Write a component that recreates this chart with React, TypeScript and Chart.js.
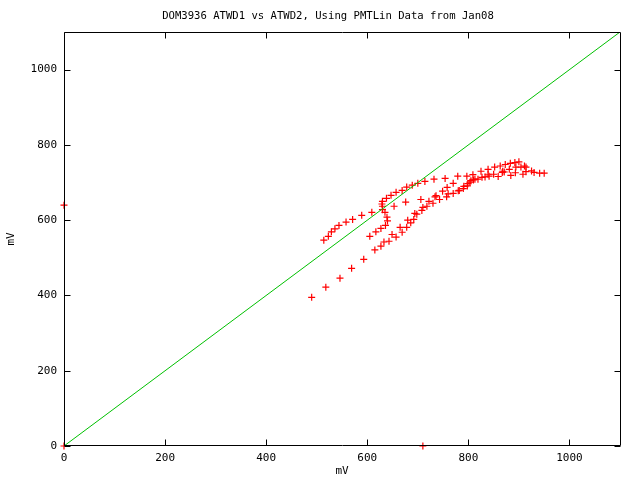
import React, { useEffect, useRef } from "react";
import { Chart, registerables } from "chart.js";

Chart.register(...registerables);

const TITLE = "DOM3936 ATWD1 vs ATWD2, Using PMTLin Data from Jan08";
const X_LABEL = "mV";
const Y_LABEL = "mV";
const TICK_VALUES = [0, 200, 400, 600, 800, 1000];
const AXIS_MAX = 1100;

// ATWD1 (x) vs ATWD2 (y) measurements, mV
const atwd1 = [
  490, 518, 546, 569, 593, 615, 627, 633, 643, 649, 657, 669, 665, 678, 686, 680, 692, 694, 698, 708,
  710, 718, 722, 730, 706, 734, 736, 743, 749, 757, 758, 760, 770, 770, 780, 782, 790, 791, 798, 799,
  803, 805, 810, 813, 819, 827, 833, 839, 841, 850, 859, 867, 868, 884, 893, 908, 914, 925, 930, 941,
  950, 779, 797, 809, 825, 839, 852, 863, 873, 883, 892, 900, 894, 904, 911, 914, 881, 871, 514, 523,
  529, 536, 544, 558, 571, 589, 609, 630, 635, 639, 640, 636, 627, 617, 605, 629, 630, 638, 647, 657,
  669, 678, 689, 700, 714, 732, 754, 653, 676, 630, 710, 0, 0,
];
const atwd2 = [
  395, 422, 446, 472, 496, 521, 531, 542, 544, 562, 555, 568, 581, 581, 593, 600, 602, 618, 616, 626,
  634, 637, 650, 645, 655, 662, 665, 655, 677, 662, 687, 670, 671, 698, 678, 679, 684, 690, 691, 697,
  701, 705, 707, 709, 709, 714, 715, 722, 717, 722, 716, 727, 730, 719, 726, 722, 729, 731, 727, 725,
  725, 717, 717, 721, 730, 735, 741, 744, 748, 751, 753, 755, 741, 741, 744, 741, 735, 728, 547, 557,
  569, 577, 586, 595, 602, 613, 621, 628, 621, 608, 598, 586, 578, 569, 557, 643, 650, 658, 666, 674,
  679, 688, 693, 698, 703, 709, 711, 637, 648, 637, 0, 640, 0,
];

// reference line y = x
const lineX = [0, 1100];
const lineY = [0, 1100];

const FONT = { family: "'DejaVu Sans Mono', 'Liberation Mono', monospace", size: 11, weight: "normal" as const };

const titlePlugin = {
  id: "gpTitle",
  afterDraw(chart: any) {
    const { ctx } = chart;
    ctx.save();
    ctx.fillStyle = "#000";
    ctx.font = "10.6px 'DejaVu Sans Mono', 'Liberation Mono', monospace";
    ctx.textAlign = "center";
    ctx.textBaseline = "middle";
    ctx.fillText(TITLE, 328, 16);
    ctx.restore();
  },
};

const framePlugin = {
  id: "frame",
  afterDatasetsDraw(chart: any) {
    const { ctx, chartArea: a, scales } = chart;
    const L = Math.round(a.left) + 0.5;
    const R = Math.round(a.right) + 0.5;
    const T = Math.round(a.top) + 0.5;
    const B = Math.round(a.bottom) - 0.5;
    ctx.save();
    ctx.strokeStyle = "#000";
    ctx.lineWidth = 1;
    ctx.beginPath();
    ctx.rect(L, T, R - L, B - T);
    const tl = 6;
    for (const v of TICK_VALUES) {
      const px = Math.round(scales.x.getPixelForValue(v)) + 0.5;
      ctx.moveTo(px, B);
      ctx.lineTo(px, B - tl);
      ctx.moveTo(px, T);
      ctx.lineTo(px, T + tl);
      const py = Math.round(scales.y.getPixelForValue(v)) + 0.5;
      ctx.moveTo(L, py);
      ctx.lineTo(L + tl, py);
      ctx.moveTo(R, py);
      ctx.lineTo(R - tl, py);
    }
    ctx.stroke();
    ctx.restore();
  },
};

export default function App() {
  const ref = useRef<HTMLCanvasElement | null>(null);
  useEffect(() => {
    document.body.style.margin = "0";
    const canvas = ref.current;
    if (!canvas) return;
    const points = atwd1.map((x, i) => ({ x, y: atwd2[i] }));
    const line = lineX.map((x, i) => ({ x, y: lineY[i] }));
    const chart = new Chart(canvas, {
      type: "scatter",
      data: {
        datasets: [
          {
            type: "line",
            label: "y=x",
            data: line,
            borderColor: "#00c000",
            borderWidth: 1,
            pointRadius: 0,
            fill: false,
            showLine: true,
          } as any,
          {
            label: "ATWD1 vs ATWD2",
            data: points,
            pointStyle: "cross",
            pointRadius: 3.5,
            pointBorderWidth: 1.2,
            borderColor: "#ff0000",
            backgroundColor: "#ff0000",
            clip: false,
          } as any,
        ],
      },
      options: {
        animation: false,
        responsive: false,
        devicePixelRatio: 1,
        layout: { padding: { left: 0, right: 20, top: 32, bottom: 0 } },
        plugins: {
          legend: { display: false },
          tooltip: { enabled: false },
          title: { display: false },
        },
        scales: {
          x: {
            type: "linear",
            min: 0,
            max: AXIS_MAX,
            grid: { display: false, drawTicks: false },
            border: { display: false },
            ticks: {
              stepSize: 200,
              includeBounds: false,
              color: "#000",
              font: FONT,
              padding: 6,
              maxRotation: 0,
              callback: (v: any) => String(v),
            },
            title: {
              display: true,
              text: X_LABEL,
              color: "#000",
              font: FONT,
              padding: { top: 0, bottom: 2 },
            },
            afterFit: (s: any) => {
              s.height = 34;
            },
          },
          y: {
            type: "linear",
            min: 0,
            max: AXIS_MAX,
            grid: { display: false, drawTicks: false },
            border: { display: false },
            ticks: {
              stepSize: 200,
              includeBounds: false,
              color: "#000",
              font: FONT,
              padding: 7,
              callback: (v: any) => String(v),
            },
            title: {
              display: true,
              text: Y_LABEL,
              color: "#000",
              font: FONT,
              padding: { top: 5, bottom: 0 },
            },
            afterFit: (s: any) => {
              s.width = 64;
            },
          },
        },
      },
      plugins: [framePlugin, titlePlugin],
    });
    return () => chart.destroy();
  }, []);
  return (
    <div style={{ width: 640, height: 480 }}>
      <canvas ref={ref} width={640} height={480} style={{ display: "block" }} />
    </div>
  );
}
